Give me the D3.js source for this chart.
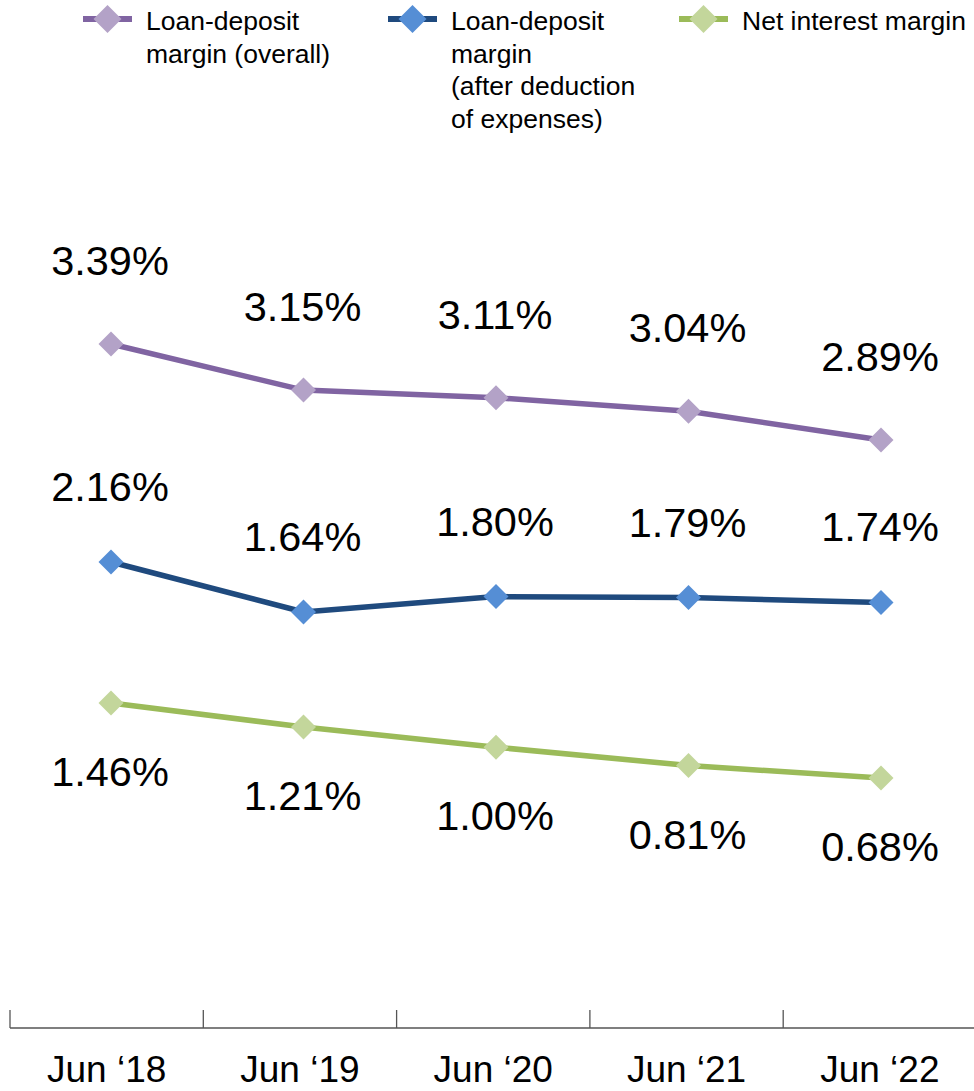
<!DOCTYPE html>
<html>
<head>
<meta charset="utf-8">
<script src="https://cdn.jsdelivr.net/npm/d3@7"></script>
<style>
  html, body { margin: 0; padding: 0; background: #fff; }
  svg { display: block; font-family: "Liberation Sans", Arial, Helvetica, sans-serif; }
</style>
</head>
<body>
<svg id="chart" width="974" height="1091"></svg>
<script>
// Margin figures by reporting period (%)
const periods = ["Jun \u201818", "Jun \u201819", "Jun \u201820", "Jun \u201821", "Jun \u201822"];
const loanDepositOverall = [3.39, 3.15, 3.11, 3.04, 2.89];
const loanDepositAfterExpenses = [2.16, 1.64, 1.80, 1.79, 1.74];
const netInterestMargin = [1.46, 1.21, 1.00, 0.81, 0.68];
const seriesNames = [
  ["Loan-deposit", "margin (overall)"],
  ["Loan-deposit", "margin", "(after deduction", "of expenses)"],
  ["Net interest margin"]
];

const svg = d3.select("#chart");

// Category bands for the axis, point positions for the marks
const x = d3.scaleBand().domain(periods).range([10, 976.5]);
const xp = d3.scalePoint().domain(periods).range([111, 881]);

// Each series sits in its own vertical band of the plot
const yOverall = d3.scaleLinear().domain([2.89, 3.39]).range([440, 344]);
const yAfter = d3.scaleLinear().domain([1.64, 2.16]).range([612, 562]);
const yNim = d3.scaleLinear().domain([0.68, 1.46]).range([778, 703]);

const series = [
  { values: loanDepositOverall, y: yOverall, line: "#8064a2", marker: "#b3a2c7", labelDy: -84 },
  { values: loanDepositAfterExpenses, y: yAfter, line: "#1f4a7e", marker: "#558ed5", labelDy: -76 },
  { values: netInterestMargin, y: yNim, line: "#9bbb59", marker: "#c3d69b", labelDy: 68 }
];

function diamondPath(r) {
  return `M0,${-r}L${r},0L0,${r}L${-r},0Z`;
}

// Category axis with ticks at the band boundaries
const axisY = 1028;
const axis = svg.append("g");
axis.append("line")
  .attr("x1", x.range()[0]).attr("x2", 974)
  .attr("y1", axisY).attr("y2", axisY)
  .attr("stroke", "#555").attr("stroke-width", 1.5);
axis.selectAll("line.tick").data(periods).join("line")
  .attr("class", "tick")
  .attr("x1", d => x(d)).attr("x2", d => x(d))
  .attr("y1", axisY - 18).attr("y2", axisY)
  .attr("stroke", "#555").attr("stroke-width", 1.3);
axis.selectAll("text").data(periods).join("text")
  .attr("x", d => x(d) + x.bandwidth() / 2)
  .attr("y", 1082)
  .attr("text-anchor", "middle")
  .attr("font-size", 37)
  .attr("fill", "#000")
  .text(d => d);

// Lines, markers and value labels
series.forEach(s => {
  const pts = periods.map((p, i) => [xp(p), s.y(s.values[i]), s.values[i]]);
  const g = svg.append("g");
  g.append("path")
    .attr("d", d3.line()(pts.map(p => [p[0], p[1]])))
    .attr("fill", "none")
    .attr("stroke", s.line)
    .attr("stroke-width", 5.5)
    .attr("stroke-linejoin", "round");
  g.selectAll("path.m").data(pts).join("path")
    .attr("class", "m")
    .attr("transform", d => `translate(${d[0]},${d[1]})`)
    .attr("d", diamondPath(12.5))
    .attr("fill", s.marker);
  g.selectAll("text").data(pts).join("text")
    .attr("x", d => d[0] - 1)
    .attr("y", d => d[1] + s.labelDy + 15)
    .attr("text-anchor", "middle")
    .attr("font-size", 41.5)
    .attr("fill", "#000")
    .text(d => d[2].toFixed(2) + "%");
});

// Legend
const legendX = [83, 388, 679];
const legend = svg.append("g");
series.forEach((s, i) => {
  const g = legend.append("g").attr("transform", `translate(${legendX[i]},0)`);
  g.append("line")
    .attr("x1", 0).attr("x2", 49)
    .attr("y1", 19).attr("y2", 19)
    .attr("stroke", s.line).attr("stroke-width", 6);
  g.append("path")
    .attr("transform", "translate(24.5,19)")
    .attr("d", diamondPath(14))
    .attr("fill", s.marker);
  const t = g.append("text")
    .attr("x", 63)
    .attr("y", 30)
    .attr("font-size", 26.5)
    .attr("fill", "#000");
  seriesNames[i].forEach((line, j) => {
    t.append("tspan").attr("x", 63).attr("dy", j === 0 ? 0 : 32.7).text(line);
  });
});
</script>
</body>
</html>
